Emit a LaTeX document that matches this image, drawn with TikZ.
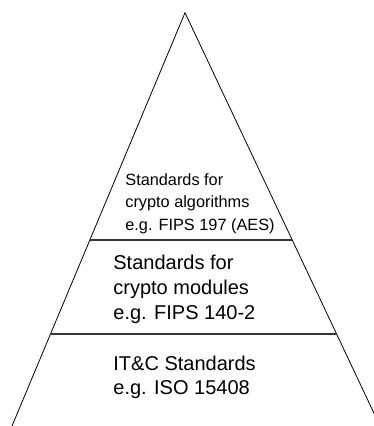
\documentclass[tikz,border=0pt]{standalone}
\usepackage{fontspec}
\setmainfont{Liberation Sans}
\usetikzlibrary{calc}

\begin{document}
\begin{tikzpicture}[x=1pt,y=-1pt,line width=0.8pt]
\tikzset{edge/.style={line width=0.8pt,black},
  tier/.style={line width=1.4pt,black!80},
  tiertext/.style={anchor=north west,inner sep=0pt,align=left}}
\useasboundingbox (0,0) rectangle (374,426);
\clip (0,0) rectangle (374,426);
% ---- pyramid outline ----
\coordinate (apex) at (185,12.7);
\coordinate (bl) at (12,426);
\coordinate (br) at (380,426);
\draw[edge] (bl) -- (apex) -- (br);
% ---- tier separators ----
\coordinate (l1) at ($(apex)!0.550!(bl)$);
\coordinate (r1) at ($(apex)!0.550!(br)$);
\coordinate (l2) at ($(apex)!0.777!(bl)$);
\coordinate (r2) at ($(apex)!0.777!(br)$);
\draw[tier] (l1) -- (r1);
\draw[tier] (l2) -- (r2);
% ---- tier labels ----
\node[tiertext,font=\fontsize{16.3}{22.5}\selectfont] (algos) at (125,173)
  {Standards for\\crypto algorithms\\e.g. FIPS 197 (AES)};
\node[tiertext,font=\fontsize{20}{25}\selectfont] (modules) at (113,255)
  {Standards for\\crypto modules\\e.g. FIPS 140-2};
\node[tiertext,font=\fontsize{20}{23.5}\selectfont] (itc) at (113,356)
  {IT\&C Standards\\e.g. ISO 15408};
\end{tikzpicture}
\end{document}
